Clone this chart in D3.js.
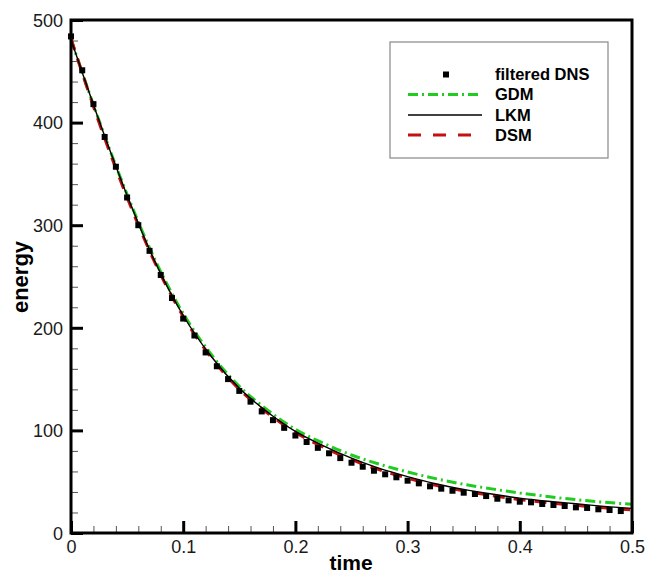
<!DOCTYPE html>
<html>
<head>
<meta charset="utf-8">
<script src="https://cdn.jsdelivr.net/npm/d3@7"></script>
<style>
  html, body { margin: 0; padding: 0; background: #fff; }
  svg { display: block; }
  text { font-family: "Liberation Sans", Arial, Helvetica, sans-serif; }
</style>
</head>
<body>
<svg id="chart" width="647" height="576"></svg>
<script>
// ---- data ----
const dnsTime = [0,0.01,0.02,0.03,0.04,0.05,0.06,0.07,0.08,0.09,0.10,0.11,0.12,0.13,0.14,0.15,0.16,0.17,0.18,0.19,0.20,0.21,0.22,0.23,0.24,0.25,0.26,0.27,0.28,0.29,0.30,0.31,0.32,0.33,0.34,0.35,0.36,0.37,0.38,0.39,0.40,0.41,0.42,0.43,0.44,0.45,0.46,0.47,0.48,0.49];
const dnsEnergy = [484,451,418,386,357,327,300,275,251.5,229,209,192.5,176,162.5,150,138.5,128,118.5,110,102.5,95,88.7,83,77.7,73,68.5,64.6,60.7,57.2,54.3,51,48.4,45.5,43.2,41.2,39.3,38,36,33.4,31.8,30.5,29.9,28.3,27.3,26.3,25,24.4,23.1,22.4,21.4];

const modelTime = [0,0.025,0.05,0.075,0.1,0.125,0.15,0.175,0.2,0.225,0.25,0.275,0.3,0.325,0.35,0.375,0.4,0.425,0.45,0.475,0.5];
const gdmEnergy = [481,402,330,266,214,174,143,120,101,87.5,76,67,59.5,53,47.5,43,39,35.5,32.5,30,28];
const lkmEnergy = [481,402,329,264,212,172,141,118,99,85,73,63,55,48,42.5,38,34,31,28.5,26,24];
const dsmEnergy = [482,400,327,263,211,171,140,117,98,83.5,71.5,61.5,53.5,46.5,41,36.5,32.5,29.5,27,24.5,22.5];

const xTicks = [0,0.1,0.2,0.3,0.4,0.5];
const xTickLabels = ["0","0.1","0.2","0.3","0.4","0.5"];
const yTicks = [0,100,200,300,400,500];
const yTickLabels = ["0","100","200","300","400","500"];

const legendLabels = ["filtered DNS","GDM","LKM","DSM"];

// ---- layout ----
const svg = d3.select("#chart");
const L = 71, R = 632, T = 20, B = 533;
const x = d3.scaleLinear().domain([0,0.5]).range([L,R]);
const y = d3.scaleLinear().domain([0,500]).range([B,T]);

svg.append("rect").attr("width",647).attr("height",576).attr("fill","#fff");

// minor ticks
const xMinor = d3.range(0,0.5001,0.02).filter(v => Math.abs(v*10 - Math.round(v*10)) > 1e-6);
const yMinor = d3.range(0,500.1,20).filter(v => v % 100 !== 0);

const g = svg.append("g");

// bottom axis (ticks inward)
const xAxis = d3.axisBottom(x).tickValues(xTicks).tickFormat((d,i)=>xTickLabels[i]).tickSizeInner(-12).tickSizeOuter(0);
const gx = g.append("g").attr("transform",`translate(0,${B})`).call(xAxis);
gx.select(".domain").remove();
gx.selectAll(".tick line").attr("stroke","#000").attr("stroke-width",3);
gx.selectAll(".tick text").attr("font-size",18).attr("fill","#1a1a1a").attr("y",7).attr("dy","0.71em");

const xAxisMinor = d3.axisBottom(x).tickValues(xMinor).tickFormat("").tickSizeInner(-7).tickSizeOuter(0);
const gxm = g.append("g").attr("transform",`translate(0,${B})`).call(xAxisMinor);
gxm.select(".domain").remove();
gxm.selectAll(".tick line").attr("stroke","#555").attr("stroke-width",1);

// left axis
const yAxis = d3.axisLeft(y).tickValues(yTicks).tickFormat((d,i)=>yTickLabels[i]).tickSizeInner(-12).tickSizeOuter(0);
const gy = g.append("g").attr("transform",`translate(${L},0)`).call(yAxis);
gy.select(".domain").remove();
gy.selectAll(".tick line").attr("stroke","#000").attr("stroke-width",3);
gy.selectAll(".tick text").attr("font-size",18).attr("fill","#1a1a1a").attr("x",-8).attr("dy","0.35em");

const yAxisMinor = d3.axisLeft(y).tickValues(yMinor).tickFormat("").tickSizeInner(-7).tickSizeOuter(0);
const gym = g.append("g").attr("transform",`translate(${L},0)`).call(yAxisMinor);
gym.select(".domain").remove();
gym.selectAll(".tick line").attr("stroke","#555").attr("stroke-width",1);

// ---- curves ----
const line = d3.line().x((d,i)=>x(modelTime[i])).y(d=>y(d)).curve(d3.curveMonotoneX);

svg.append("path").attr("d",line(gdmEnergy)).attr("fill","none")
  .attr("stroke","#1fcc1f").attr("stroke-width",3).attr("stroke-dasharray","10,4,2,4");
svg.append("path").attr("d",line(dsmEnergy)).attr("fill","none")
  .attr("stroke","#c41010").attr("stroke-width",3).attr("stroke-dasharray","12,9");
svg.append("path").attr("d",line(lkmEnergy)).attr("fill","none")
  .attr("stroke","#000").attr("stroke-width",1.4);

// DNS points
svg.append("g").selectAll("rect").data(dnsEnergy).join("rect")
  .attr("x",(d,i)=>x(dnsTime[i])-3).attr("y",d=>y(d)-3)
  .attr("width",6).attr("height",6).attr("fill","#000");

// frame
svg.append("rect").attr("x",L).attr("y",T).attr("width",R-L).attr("height",B-T)
  .attr("fill","none").attr("stroke","#000").attr("stroke-width",3);

// axis titles
svg.append("text").attr("x",351).attr("y",570).attr("text-anchor","middle")
  .attr("font-size",21).attr("font-weight","bold").attr("fill","#000").text("time");
svg.append("text").attr("transform","translate(28,277) rotate(-90)").attr("text-anchor","middle")
  .attr("font-size",22).attr("font-weight","bold").attr("fill","#000").text("energy");

// ---- legend ----
const lg = svg.append("g");
lg.append("rect").attr("x",390).attr("y",42).attr("width",218).attr("height",116)
  .attr("fill","#fff").attr("stroke","#888").attr("stroke-width",1.2);
const rowY = [74.5, 94.5, 115, 135];
const styles = [
  null,
  {stroke:"#1fcc1f", w:3, dash:"10,4,2,4"},
  {stroke:"#000", w:1.4, dash:null},
  {stroke:"#c41010", w:3, dash:"13,12"}
];
legendLabels.forEach((lab,i)=>{
  if (i===0) {
    lg.append("rect").attr("x",443).attr("y",rowY[i]-3).attr("width",6).attr("height",6).attr("fill","#000");
  } else {
    const s = styles[i];
    lg.append("line").attr("x1",408).attr("x2",482).attr("y1",rowY[i]).attr("y2",rowY[i])
      .attr("stroke",s.stroke).attr("stroke-width",s.w).attr("stroke-dasharray",s.dash);
  }
  lg.append("text").attr("x",495).attr("y",rowY[i]+5.5).attr("font-size",16.5)
    .attr("font-weight","bold").attr("fill","#000").text(lab);
});
</script>
</body>
</html>
